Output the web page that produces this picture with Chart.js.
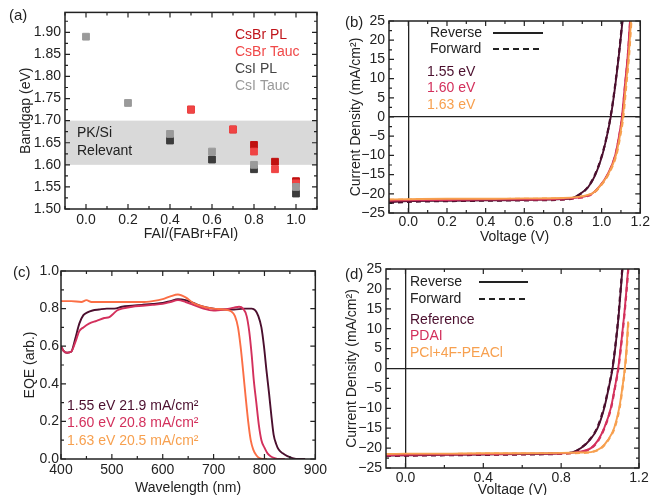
<!DOCTYPE html>
<html lang="en">
<head>
<meta charset="UTF-8">
<title>Bandgap, J-V and EQE</title>
<script src="https://cdn.jsdelivr.net/npm/chart.js"></script>
<style>
  html, body { margin: 0; padding: 0; background: #fff; overflow: hidden; }
  #wrap { position: relative; width: 651px; height: 495px; }
  .panel { position: absolute; }
</style>
</head>
<body>
<div id="wrap">
  <div class="panel" style="left:0;top:0;width:330px;height:245px"><canvas id="chartA"></canvas></div>
  <div class="panel" style="left:330px;top:0;width:321px;height:246px"><canvas id="chartB"></canvas></div>
  <div class="panel" style="left:0;top:245px;width:330px;height:252px"><canvas id="chartC"></canvas></div>
  <div class="panel" style="left:330px;top:245px;width:321px;height:254px"><canvas id="chartD"></canvas></div>
</div>
<script>
// (a) bandgap vs FAI fraction
const faiCsBr = [0.5, 0.7, 0.8, 0.9, 1.0];
const csbrPL = [1.725, 1.68, 1.645, 1.607, 1.563];
const csbrTauc = [1.725, 1.68, 1.63, 1.59, 1.558];
const faiCsI = [0.0, 0.2, 0.4, 0.6, 0.8, 1.0];
const csiTauc = [1.89, 1.74, 1.67, 1.63, 1.60, 1.55];
const faiCsIPL = [0.4, 0.6, 0.8, 1.0];
const csiPL = [1.655, 1.612, 1.59, 1.535];
const relevantBand = [1.60, 1.70];
const faiTicks = [0.0, 0.2, 0.4, 0.6, 0.8, 1.0];
const bandgapTicks = [1.50, 1.55, 1.60, 1.65, 1.70, 1.75, 1.80, 1.85, 1.90];

// (b) J-V for three bandgaps
const vRev155 = [-0.1, 0.0, 0.2, 0.4, 0.6, 0.8, 0.85, 0.889, 0.93, 0.968, 1.003, 1.025, 1.047, 1.065, 1.08, 1.095, 1.108];
const jRev155 = [-22.2, -21.9, -21.8, -21.7, -21.6, -21.4, -21.1, -20.0, -18.3, -15.0, -10.0, -5.5, 0.0, 6.0, 12.0, 18.5, 25.0];
const vFwd155 = [-0.1, 0.0, 0.2, 0.4, 0.6, 0.8, 0.85, 0.886, 0.927, 0.965, 1.001, 1.024, 1.046, 1.064, 1.079, 1.094, 1.107];
const jFwd155 = [-22.4, -22.1, -21.9, -21.8, -21.7, -21.5, -21.2, -20.2, -18.4, -15.1, -10.1, -5.6, 0.0, 6.0, 12.0, 18.5, 25.0];
const vRev160 = [-0.1, 0.0, 0.2, 0.4, 0.6, 0.8, 0.88, 0.92, 0.95, 0.99, 1.03, 1.07, 1.09, 1.105, 1.12, 1.135, 1.147];
const jRev160 = [-21.8, -21.7, -21.6, -21.5, -21.5, -21.3, -21.0, -20.6, -20.0, -18.0, -15.0, -10.0, -5.0, 0.0, 8.0, 16.0, 25.0];
const vFwd160 = [-0.1, 0.0, 0.2, 0.4, 0.6, 0.8, 0.88, 0.92, 0.952, 0.992, 1.032, 1.071, 1.091, 1.106, 1.121, 1.136, 1.148];
const jFwd160 = [-21.9, -21.8, -21.7, -21.6, -21.6, -21.4, -21.1, -20.7, -20.0, -18.0, -15.0, -10.0, -5.0, 0.0, 8.0, 16.0, 25.0];
const vRev163 = [-0.1, 0.0, 0.2, 0.4, 0.6, 0.8, 0.88, 0.92, 0.955, 0.995, 1.035, 1.075, 1.095, 1.11, 1.125, 1.14, 1.152];
const jRev163 = [-21.5, -21.4, -21.3, -21.3, -21.2, -21.1, -20.8, -20.4, -19.8, -17.8, -14.8, -9.8, -4.8, 0.0, 8.0, 16.0, 25.0];
const vFwd163 = [-0.1, 0.0, 0.2, 0.4, 0.6, 0.8, 0.88, 0.92, 0.957, 0.997, 1.037, 1.077, 1.097, 1.112, 1.127, 1.142, 1.154];
const jFwd163 = [-21.6, -21.5, -21.4, -21.4, -21.3, -21.2, -20.9, -20.5, -19.8, -17.8, -14.8, -9.8, -4.8, 0.0, 8.0, 16.0, 25.0];
const voltTicksB = [0.0, 0.2, 0.4, 0.6, 0.8, 1.0, 1.2];
const currentTicks = [-25, -20, -15, -10, -5, 0, 5, 10, 15, 20, 25];

// (c) EQE spectra
const wl155 = [400, 405, 412, 420, 428, 436, 444, 452, 462, 475, 490, 505, 520, 540, 560, 580, 600, 615, 630, 645, 660, 680, 700, 720, 740, 760, 775, 782, 788, 794, 799, 804, 809, 814, 818, 823, 828, 836, 845, 855, 868, 880];
const eqe155 = [0.60, 0.575, 0.565, 0.57, 0.64, 0.72, 0.765, 0.78, 0.79, 0.795, 0.80, 0.80, 0.81, 0.815, 0.82, 0.825, 0.83, 0.84, 0.85, 0.845, 0.83, 0.81, 0.80, 0.795, 0.795, 0.80, 0.80, 0.79, 0.76, 0.70, 0.60, 0.47, 0.35, 0.22, 0.13, 0.08, 0.05, 0.03, 0.015, 0.005, 0, 0];
const wl160 = [400, 405, 412, 420, 428, 436, 444, 455, 470, 485, 495, 502, 510, 520, 540, 560, 580, 600, 615, 630, 645, 660, 680, 700, 720, 740, 750, 758, 765, 770, 775, 779, 784, 789, 794, 800, 806, 812, 820, 830, 840];
const eqe160 = [0.60, 0.575, 0.565, 0.57, 0.62, 0.68, 0.70, 0.72, 0.735, 0.75, 0.755, 0.77, 0.79, 0.80, 0.81, 0.815, 0.82, 0.825, 0.835, 0.845, 0.835, 0.82, 0.80, 0.79, 0.795, 0.805, 0.81, 0.80, 0.76, 0.68, 0.55, 0.42, 0.30, 0.18, 0.10, 0.06, 0.03, 0.015, 0.005, 0, 0];
const wl163 = [400, 420, 440, 450, 460, 480, 500, 520, 540, 560, 580, 600, 615, 630, 645, 660, 680, 700, 720, 735, 742, 748, 753, 758, 763, 768, 773, 778, 784, 790, 797, 805];
const eqe163 = [0.84, 0.84, 0.835, 0.845, 0.835, 0.835, 0.835, 0.835, 0.835, 0.835, 0.84, 0.85, 0.865, 0.875, 0.86, 0.83, 0.81, 0.80, 0.795, 0.785, 0.76, 0.70, 0.60, 0.47, 0.33, 0.20, 0.10, 0.05, 0.02, 0.005, 0, 0];
const wlTicks = [400, 500, 600, 700, 800, 900];
const eqeTicks = [0.0, 0.2, 0.4, 0.6, 0.8, 1.0];

// (d) J-V with passivation layers
const vRefRev = [-0.1, 0.0, 0.2, 0.4, 0.6, 0.8, 0.86, 0.902, 0.95, 0.987, 1.021, 1.043, 1.064, 1.08, 1.095, 1.105, 1.115];
const jRefRev = [-21.9, -21.8, -21.7, -21.6, -21.5, -21.3, -21.0, -20.0, -17.8, -15.0, -10.0, -5.2, 0.0, 6.0, 13.0, 19.0, 25.0];
const vRefFwd = [-0.1, 0.0, 0.2, 0.4, 0.6, 0.8, 0.86, 0.898, 0.946, 0.984, 1.019, 1.042, 1.063, 1.079, 1.094, 1.104, 1.114];
const jRefFwd = [-22.0, -21.9, -21.8, -21.7, -21.6, -21.4, -21.1, -20.1, -17.9, -15.0, -10.0, -5.2, 0.0, 6.0, 13.0, 19.0, 25.0];
const vPdaiRev = [-0.1, 0.0, 0.2, 0.4, 0.6, 0.8, 0.88, 0.953, 0.99, 1.021, 1.055, 1.075, 1.093, 1.11, 1.125, 1.135, 1.144];
const jPdaiRev = [-21.8, -21.7, -21.6, -21.5, -21.4, -21.3, -21.0, -20.0, -18.0, -15.0, -10.0, -5.0, 0.0, 7.0, 14.0, 19.5, 25.0];
const vPdaiFwd = [-0.1, 0.0, 0.2, 0.4, 0.6, 0.8, 0.88, 0.955, 0.992, 1.022, 1.056, 1.076, 1.094, 1.111, 1.126, 1.136, 1.145];
const jPdaiFwd = [-21.9, -21.8, -21.7, -21.6, -21.5, -21.4, -21.1, -20.0, -18.0, -15.0, -10.0, -5.0, 0.0, 7.0, 14.0, 19.5, 25.0];
const vPclRev = [-0.1, 0.0, 0.2, 0.4, 0.6, 0.8, 0.9, 0.953, 1.004, 1.04, 1.072, 1.098, 1.114, 1.127, 1.136, 1.144];
const jPclRev = [-21.5, -21.4, -21.4, -21.3, -21.3, -21.2, -21.1, -21.0, -20.0, -18.0, -15.0, -10.0, -5.0, 0.0, 5.0, 11.8];
const vPclFwd = [-0.1, 0.0, 0.2, 0.4, 0.6, 0.8, 0.9, 0.955, 1.006, 1.042, 1.074, 1.1, 1.115, 1.128, 1.137, 1.145];
const jPclFwd = [-21.6, -21.5, -21.5, -21.4, -21.4, -21.3, -21.2, -21.0, -20.0, -18.0, -15.0, -10.0, -5.0, 0.0, 5.0, 11.5];
const voltTicksD = [0.0, 0.4, 0.8, 1.2];

const FONT = '"Liberation Sans", Arial, sans-serif';
Chart.defaults.font.family = FONT;
Chart.defaults.font.size = 14;
Chart.defaults.color = '#222';

const pairs = (xs, ys) => xs.map((x, i) => ({x: x, y: ys[i]}));
const halfSteps = (major, lo, hi) => {
  const step = major[1] - major[0];
  const out = [];
  for (let v = major[0] - step / 2; v <= hi + 1e-9; v += step) if (v >= lo - 1e-9) out.push(v);
  return out;
};
const fmt = (v, dec) => {
  const s = Math.abs(v).toFixed(dec);
  return v < -1e-9 ? '\u2212' + s : s;
};

// inward ticks on all four sides and a closed frame
const frameTicks = {
  id: 'frameTicks',
  afterDatasetsDraw(chart, args, o) {
    const {ctx, chartArea: a} = chart;
    const xs = chart.scales.x, ys = chart.scales.y;
    ctx.save();
    ctx.strokeStyle = '#222';
    ctx.lineWidth = 1.2;
    ctx.beginPath();
    const markX = (vals, len) => vals.forEach(v => {
      const p = xs.getPixelForValue(v);
      if (p < a.left || p > a.right) return;
      ctx.moveTo(p, a.bottom); ctx.lineTo(p, a.bottom - len);
      ctx.moveTo(p, a.top); ctx.lineTo(p, a.top + len);
    });
    const markY = (vals, len) => vals.forEach(v => {
      const p = ys.getPixelForValue(v);
      if (p < a.top || p > a.bottom) return;
      ctx.moveTo(a.left, p); ctx.lineTo(a.left + len, p);
      ctx.moveTo(a.right, p); ctx.lineTo(a.right - len, p);
    });
    markX(o.xMajor, 5); markX(o.xMinor, 3);
    markY(o.yMajor, 5); markY(o.yMinor, 3);
    ctx.stroke();
    ctx.lineWidth = 1.5;
    ctx.strokeRect(a.left, a.top, a.width, a.height);
    ctx.restore();
  }
};

// free text and legend line samples
const notes = {
  id: 'notes',
  afterDraw(chart, args, o) {
    const ctx = chart.ctx;
    ctx.save();
    (o.lines || []).forEach(l => {
      ctx.beginPath();
      ctx.strokeStyle = '#222';
      ctx.lineWidth = 2;
      ctx.setLineDash(l.dash || []);
      ctx.moveTo(l.x1, l.y); ctx.lineTo(l.x2, l.y);
      ctx.stroke();
    });
    ctx.setLineDash([]);
    ctx.textBaseline = 'middle';
    ctx.textAlign = 'left';
    (o.texts || []).forEach(t => {
      ctx.font = (t.size || 14) + 'px ' + FONT;
      ctx.fillStyle = t.color || '#222';
      ctx.fillText(t.text, t.x, t.y);
    });
    ctx.restore();
  }
};

// grey PK/Si band in (a)
const band = {
  id: 'band',
  beforeDatasetsDraw(chart, args, o) {
    if (!o.range) return;
    const {ctx, chartArea: a, scales: {y}} = chart;
    const top = y.getPixelForValue(o.range[1]);
    const bot = y.getPixelForValue(o.range[0]);
    ctx.save();
    ctx.fillStyle = '#d9d9d9';
    ctx.fillRect(a.left, top, a.width, bot - top);
    ctx.restore();
  }
};

function axes(o) {
  const zeroGrid = c => (o.zero && c.tick && Math.abs(c.tick.value) < 1e-9) ? '#222' : 'rgba(0,0,0,0)';
  return {
    x: {
      type: 'linear', min: o.xMin, max: o.xMax,
      afterBuildTicks: s => { s.ticks = o.xTicks.map(v => ({value: v})); },
      afterFit: s => { s.height = o.xHeight; },
      grid: { drawTicks: false, color: zeroGrid, lineWidth: 1.3 },
      border: { display: false },
      ticks: { padding: o.xPad, autoSkip: false, maxRotation: 0, callback: v => fmt(v, o.xDec) },
      title: { display: true, text: o.xTitle, padding: { top: 0, bottom: o.xTitlePad } }
    },
    y: {
      type: 'linear', min: o.yMin, max: o.yMax,
      afterBuildTicks: s => { s.ticks = o.yTicks.map(v => ({value: v})); },
      afterFit: s => { s.width = o.yWidth; },
      grid: { drawTicks: false, color: zeroGrid, lineWidth: 1.3 },
      border: { display: false },
      ticks: { padding: o.yPad, autoSkip: false, callback: v => fmt(v, o.yDec) },
      title: { display: true, text: o.yTitle, padding: { top: o.yTitlePad, bottom: 0 } }
    }
  };
}

function baseOptions(o, pad, extra) {
  return {
    responsive: true,
    maintainAspectRatio: false,
    animation: false,
    layout: { padding: pad },
    scales: axes(o),
    plugins: Object.assign({
      legend: { display: false },
      tooltip: { enabled: false },
      frameTicks: {
        xMajor: o.xTicks, xMinor: halfSteps(o.xTicks, o.xMin, o.xMax),
        yMajor: o.yTicks, yMinor: halfSteps(o.yTicks, o.yMin, o.yMax)
      }
    }, extra)
  };
}

const curve = (xs, ys, color, dashed) => ({
  data: pairs(xs, ys),
  borderColor: color,
  borderWidth: dashed ? 2.2 : 1.9,
  borderDash: dashed ? [5, 4] : [],
  pointRadius: 0,
  fill: false,
  cubicInterpolationMode: 'monotone'
});
const squares = (xs, ys, color) => ({
  data: pairs(xs, ys),
  backgroundColor: color,
  borderColor: color,
  borderWidth: 1,
  pointStyle: 'rect',
  pointRadius: 4.8
});

const MAROON = '#4b0f2e', CRIMSON = '#d3305c', AMBER = '#f7a04f', EQE_ORANGE = '#fb6e45';

// (a)
new Chart(document.getElementById('chartA'), {
  type: 'scatter',
  data: { datasets: [
    squares(faiCsI, csiTauc, '#9a9a9a'),
    squares(faiCsIPL, csiPL, '#3c3c3c'),
    squares(faiCsBr, csbrTauc, '#f04545'),
    squares(faiCsBr, csbrPL, '#c0100f')
  ] },
  options: baseOptions({
    xMin: -0.1, xMax: 1.1, xTicks: faiTicks, xDec: 1, xHeight: 36, xPad: 3,
    xTitle: 'FAI/(FABr+FAI)', xTitlePad: 2,
    yMin: 1.50, yMax: 1.945, yTicks: bandgapTicks, yDec: 2, yWidth: 65, yPad: 4,
    yTitle: 'Bandgap (eV)', yTitlePad: 18
  }, { top: 10, right: 13, left: 0, bottom: 0 }, {
    band: { range: relevantBand },
    notes: { texts: [
      { text: '(a)', x: 9, y: 16, size: 15 },
      { text: 'CsBr PL', x: 235, y: 35, color: '#c0141a' },
      { text: 'CsBr Tauc', x: 235, y: 52, color: '#f04848' },
      { text: 'CsI PL', x: 235, y: 69, color: '#444' },
      { text: 'CsI Tauc', x: 235, y: 86, color: '#999' },
      { text: 'PK/Si', x: 77, y: 133 },
      { text: 'Relevant', x: 77, y: 151 }
    ] }
  }),
  plugins: [band, frameTicks, notes]
});

// (b)
new Chart(document.getElementById('chartB'), {
  type: 'line',
  data: { datasets: [
    curve(vRev163, jRev163, AMBER, false),
    curve(vRev160, jRev160, CRIMSON, false),
    curve(vRev155, jRev155, MAROON, false),
    curve(vFwd163, jFwd163, AMBER, true),
    curve(vFwd160, jFwd160, CRIMSON, true),
    curve(vFwd155, jFwd155, MAROON, true)
  ] },
  options: baseOptions({
    zero: true,
    xMin: -0.1, xMax: 1.2, xTicks: voltTicksB, xDec: 1, xHeight: 33, xPad: 1,
    xTitle: 'Voltage (V)', xTitlePad: 0,
    yMin: -25, yMax: 25, yTicks: currentTicks, yDec: 0, yWidth: 59, yPad: 4,
    yTitle: 'Current Density (mA/cm\u00b2)', yTitlePad: 18
  }, { top: 21, right: 10, left: 0, bottom: 0 }, {
    notes: {
      lines: [
        { x1: 163, x2: 213, y: 33 },
        { x1: 163, x2: 213, y: 49, dash: [6, 4] }
      ],
      texts: [
        { text: '(b)', x: 15, y: 23, size: 15 },
        { text: 'Reverse', x: 100, y: 33 },
        { text: 'Forward', x: 100, y: 49 },
        { text: '1.55 eV', x: 97, y: 72, color: MAROON },
        { text: '1.60 eV', x: 97, y: 88, color: CRIMSON },
        { text: '1.63 eV', x: 97, y: 105, color: AMBER }
      ]
    }
  }),
  plugins: [frameTicks, notes]
});

// (c)
new Chart(document.getElementById('chartC'), {
  type: 'line',
  data: { datasets: [
    curve(wl163, eqe163, EQE_ORANGE, false),
    curve(wl160, eqe160, CRIMSON, false),
    curve(wl155, eqe155, MAROON, false)
  ] },
  options: baseOptions({
    xMin: 400, xMax: 900, xTicks: wlTicks, xDec: 0, xHeight: 38, xPad: 3,
    xTitle: 'Wavelength (nm)', xTitlePad: 0,
    yMin: 0, yMax: 1.0, yTicks: eqeTicks, yDec: 1, yWidth: 61, yPad: 2,
    yTitle: 'EQE (arb.)', yTitlePad: 22
  }, { top: 26, right: 13, left: 0, bottom: 0 }, {
    notes: { texts: [
      { text: '(c)', x: 13, y: 28, size: 15 },
      { text: '1.55 eV 21.9 mA/cm\u00b2', x: 67, y: 161, color: MAROON },
      { text: '1.60 eV 20.8 mA/cm\u00b2', x: 67, y: 178, color: CRIMSON },
      { text: '1.63 eV 20.5 mA/cm\u00b2', x: 67, y: 196, color: AMBER }
    ] }
  }),
  plugins: [frameTicks, notes]
});

// (d)
new Chart(document.getElementById('chartD'), {
  type: 'line',
  data: { datasets: [
    curve(vPclRev, jPclRev, AMBER, false),
    curve(vPdaiRev, jPdaiRev, CRIMSON, false),
    curve(vRefRev, jRefRev, MAROON, false),
    curve(vPclFwd, jPclFwd, AMBER, true),
    curve(vPdaiFwd, jPdaiFwd, CRIMSON, true),
    curve(vRefFwd, jRefFwd, MAROON, true)
  ] },
  options: baseOptions({
    zero: true,
    xMin: -0.1, xMax: 1.2, xTicks: voltTicksD, xDec: 1, xHeight: 31, xPad: 2,
    xTitle: 'Voltage (V)', xTitlePad: 0,
    yMin: -25, yMax: 25, yTicks: currentTicks, yDec: 0, yWidth: 56, yPad: 4,
    yTitle: 'Current Density (mA/cm\u00b2)', yTitlePad: 14
  }, { top: 24, right: 12, left: 0, bottom: 0 }, {
    notes: {
      lines: [
        { x1: 149, x2: 198, y: 37 },
        { x1: 149, x2: 198, y: 54, dash: [6, 4] }
      ],
      texts: [
        { text: '(d)', x: 15, y: 30, size: 15 },
        { text: 'Reverse', x: 80, y: 37 },
        { text: 'Forward', x: 80, y: 54 },
        { text: 'Reference', x: 80, y: 75, color: MAROON },
        { text: 'PDAI', x: 80, y: 91, color: CRIMSON },
        { text: 'PCl+4F-PEACl', x: 80, y: 108, color: AMBER }
      ]
    }
  }),
  plugins: [frameTicks, notes]
});
</script>
</body>
</html>
